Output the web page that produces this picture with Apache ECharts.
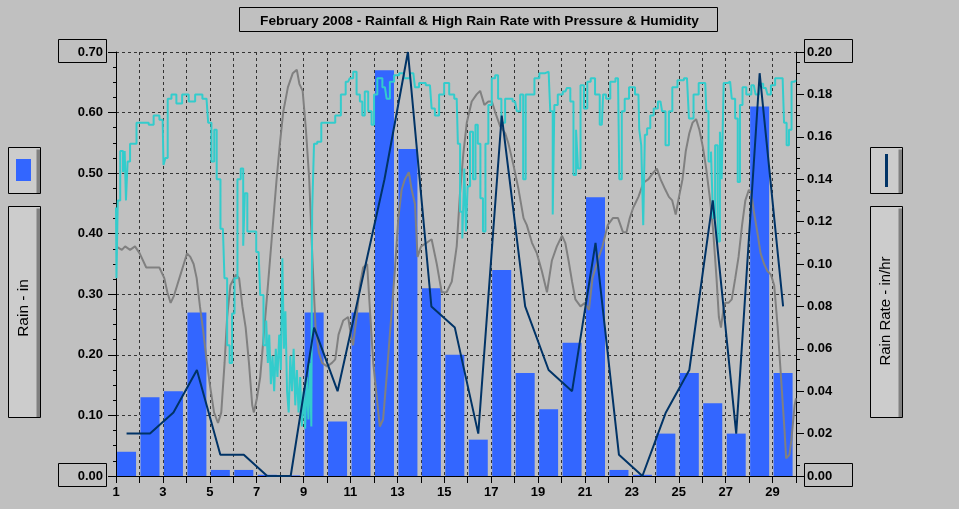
<!DOCTYPE html>
<html><head><meta charset="utf-8">
<script src="https://cdn.jsdelivr.net/npm/echarts@6/dist/echarts.min.js"></script>
<style>html,body{margin:0;padding:0;background:#c0c0c0;}#c{width:959px;height:509px;}</style>
</head><body><div id="c"></div>
<script>
const days = [1,2,3,4,5,6,7,8,9,10,11,12,13,14,15,16,17,18,19,20,21,22,23,24,25,26,27,28,29];
const rainIn = [0.04,0.13,0.14,0.27,0.01,0.01,0.002,0.001,0.27,0.09,0.27,0.67,0.54,0.31,0.20,0.06,0.34,0.17,0.11,0.22,0.46,0.01,0.002,0.07,0.17,0.12,0.07,0.61,0.17];
const rainRate = [0.02,0.02,0.03,0.05,0.01,0.01,0,0,0.07,0.04,0.09,0.14,0.20,0.08,0.07,0.02,0.17,0.08,0.05,0.04,0.11,0.01,0,0.03,0.05,0.13,0.02,0.19,0.08];
const xTickLabels = [1,3,5,7,9,11,13,15,17,19,21,23,25,27,29];

const humDays = [1.0,1.04,1.11,1.25,1.35,1.39,1.46,1.53,1.67,1.81,1.94,2.08,2.29,2.5,2.71,2.99,3.06,3.15,3.26,3.47,3.68,3.96,4.24,4.51,4.86,5.0,5.14,5.24,5.35,5.56,5.69,5.79,5.9,6.0,6.11,6.25,6.39,6.46,6.53,6.67,6.88,7.08,7.22,7.36,7.45,7.5,7.57,7.64,7.71,7.78,7.85,7.92,8.0,8.06,8.13,8.19,8.26,8.33,8.4,8.47,8.54,8.61,8.68,8.75,8.82,8.89,8.96,9.03,9.1,9.17,9.24,9.31,9.35,9.38,9.51,9.65,9.86,10.21,10.49,10.69,10.9,11.04,11.19,11.33,11.47,11.54,11.68,11.83,11.97,12.04,12.25,12.47,12.61,12.75,12.97,13.18,13.39,13.68,13.82,14.03,14.39,14.53,14.67,14.89,15.1,15.32,15.53,15.63,15.72,15.82,15.89,15.96,16.03,16.17,16.28,16.38,16.48,16.6,16.7,16.81,16.95,17.1,17.24,17.35,17.52,17.67,17.81,18.02,18.17,18.31,18.42,18.52,18.74,18.95,19.16,19.45,19.59,19.66,19.73,19.95,20.16,20.3,20.45,20.57,20.67,20.74,20.88,21.03,21.17,21.32,21.54,21.72,21.83,21.97,22.19,22.41,22.52,22.62,22.77,22.99,23.28,23.35,23.45,23.52,23.59,23.71,23.86,24.0,24.22,24.36,24.51,24.65,24.8,25.09,25.35,25.52,25.74,25.96,26.13,26.22,26.32,26.43,26.49,26.61,26.71,26.8,26.86,26.97,27.19,27.33,27.48,27.55,27.67,27.77,27.99,28.2,28.35,28.49,28.71,28.86,29.0,29.22,29.43,29.55,29.65,29.75,29.87,30.0];
const humVals = [78,68,79,86,83,86,79,84.5,87,87,90,90,90,89.7,91,90.4,84,85,93.4,94,92.7,94,93,94,93.4,90,84.5,89,82,75,68,58.5,56,63,68,82,83.5,72.6,80,74.6,74.6,71.7,65.6,58.5,62,56,60,53,57,52,58,54,60,55,70.8,58,63.3,52,49,57,52,58,50,55,49,54,47,52,46.7,54,48,56,47,77.4,87,87.3,90,90,91,94,95.8,96.3,97.2,94,93,91,94.4,91.6,89.7,94,96.3,95,93.4,95.8,96.7,97,96.3,97,95,95.6,95.3,92,91,94,95.6,94,93.4,87,77.4,73.6,83.5,74.6,81,88.7,82,89.7,87,79.3,74.6,87,92.5,96.3,96.7,93.4,90,93.4,93.4,93,91.6,94,82,94,94,96.3,97,97.2,91.6,77,92.5,94,94.4,94.9,93,82.6,89,83.5,95.3,92,95.8,96.3,94,89.7,94,93.4,95.8,96.3,82,91.6,93.4,95,94,89,86.8,75.5,88.3,89.2,91,92,93,91.6,86.8,91.6,95,96,96.3,90.6,94,95.6,95.6,91.6,84.5,85.9,76.5,86.8,73.2,88.7,82,95.6,95.8,93.4,90.6,81.6,92.5,95,94,95.3,94,95.5,94.9,94,95.3,96.3,96.3,90,86.8,89,95.8,96];

const presDays = [1.0,1.25,1.39,1.6,1.81,2.01,2.29,2.57,2.85,3.06,3.19,3.33,3.47,3.61,3.75,3.89,4.03,4.17,4.31,4.44,4.58,4.72,4.86,5.0,5.18,5.35,5.49,5.63,5.74,5.88,6.11,6.25,6.39,6.53,6.67,6.81,6.88,7.01,7.15,7.29,7.43,7.64,7.85,7.99,8.13,8.33,8.54,8.71,8.82,8.96,9.1,9.24,9.38,9.51,9.65,9.79,10.0,10.21,10.35,10.49,10.69,10.9,11.04,11.11,11.26,11.4,11.54,11.71,11.83,11.97,12.11,12.25,12.39,12.54,12.68,12.89,13.04,13.18,13.32,13.49,13.61,13.75,13.86,14.01,14.25,14.46,14.68,14.89,15.1,15.32,15.53,15.67,15.81,15.96,16.17,16.38,16.53,16.71,16.88,17.03,17.17,17.38,17.6,17.74,17.95,18.17,18.38,18.52,18.74,18.95,19.16,19.38,19.59,19.8,20.02,20.16,20.3,20.45,20.59,20.81,21.0,21.17,21.32,21.54,21.75,21.97,22.19,22.41,22.62,22.77,22.91,23.06,23.28,23.49,23.71,23.93,24.07,24.22,24.43,24.58,24.72,24.87,25.01,25.16,25.3,25.45,25.59,25.74,25.88,26.03,26.17,26.32,26.46,26.61,26.71,26.8,26.9,26.97,27.12,27.26,27.41,27.55,27.7,27.84,27.99,28.1,28.2,28.35,28.49,28.64,28.78,28.93,29.07,29.22,29.36,29.51,29.58,29.72,29.8,29.87,29.94,30.0];
const presVals = [30.05,30.04,30.05,30.04,30.05,30.03,29.99,29.99,29.99,29.96,29.92,29.89,29.91,29.94,29.97,30.0,30.03,30.02,30.0,29.96,29.88,29.81,29.73,29.66,29.58,29.55,29.58,29.72,29.85,29.94,29.97,29.96,29.88,29.82,29.72,29.6,29.58,29.62,29.68,29.79,29.9,30.07,30.24,30.34,30.43,30.5,30.54,30.55,30.51,30.49,30.38,30.24,30.01,29.82,29.75,29.72,29.71,29.72,29.73,29.8,29.84,29.85,29.79,29.77,29.85,29.94,29.99,30.0,29.87,29.72,29.63,29.54,29.56,29.68,29.8,29.98,30.13,30.21,30.24,30.26,30.21,30.17,30.02,30.05,30.06,30.07,30.0,29.92,29.92,29.95,30.05,30.2,30.31,30.4,30.46,30.48,30.49,30.45,30.46,30.46,30.43,30.39,30.37,30.34,30.28,30.21,30.13,30.11,30.06,30.03,29.98,29.92,30.01,30.05,30.08,30.06,30.01,29.95,29.9,29.88,29.89,29.87,29.96,30.01,30.05,30.11,30.13,30.13,30.09,30.09,30.13,30.16,30.19,30.23,30.24,30.26,30.27,30.24,30.21,30.19,30.18,30.14,30.19,30.24,30.32,30.37,30.4,30.41,30.38,30.33,30.27,30.19,30.1,29.96,29.85,29.82,29.87,29.89,29.89,29.9,29.96,30.02,30.11,30.18,30.21,30.2,30.15,30.09,30.03,30.0,29.98,29.97,29.94,29.82,29.68,29.53,29.45,29.46,29.5,29.55,29.6,29.62];

const FONT = 'Liberation Sans';
const BAR_OFFSET = 0.45;
const chart = echarts.init(document.getElementById('c'), null, {renderer:'canvas'});

function box(x,y,w,h){
  return {type:'rect', shape:{x:x,y:y,width:w,height:h}, style:{fill:'none', stroke:'#000', lineWidth:1}, z:10};
}
function panel(x,y,w,h){
  return [
    {type:'rect', shape:{x:x,y:y,width:w,height:h}, style:{fill:'#cccccc', stroke:'#000', lineWidth:1}, z:5},
    {type:'rect', shape:{x:x+w-4,y:y+2,width:3.5,height:h-2.5}, style:{fill:'#808080'}, z:6}
  ];
}

const graphics = [
  box(239.5,7.5,478,24),
  box(58.5,39.5,48,23), box(58.5,463.5,48,23),
  box(804.5,39.5,48,23), box(804.5,463.5,48,23),
  ...panel(8.5,147.5,32,46),
  ...panel(8.5,206.5,32,211),
  ...panel(870.5,147.5,32,46),
  ...panel(870.5,206.5,32,211),
  {type:'rect', shape:{x:16,y:159,width:15,height:22}, style:{fill:'#3366ff'}, z:7},
  {type:'line', shape:{x1:886.5,y1:154,x2:886.5,y2:187}, style:{stroke:'#003366', lineWidth:3}, z:7},
  {type:'text', x:24, y:308, rotation:Math.PI/2, style:{text:'Rain - in', font:'15.5px "Liberation Sans"', fill:'#000', textAlign:'center', textVerticalAlign:'middle'}, z:7},
  {type:'text', x:886, y:311, rotation:Math.PI/2, style:{text:'Rain Rate - in/hr', font:'15px "Liberation Sans"', fill:'#000', textAlign:'center', textVerticalAlign:'middle'}, z:7}
];

const dash = {color:'#333', type:[3,3], width:1};
const option = {
  animation:false,
  backgroundColor:'#c0c0c0',
  title:{text:'February 2008 - Rainfall & High Rain Rate with Pressure & Humidity', left:'center', top:9,
    textStyle:{fontFamily:FONT, fontWeight:'bold', fontSize:13.7, color:'#000'}},
  grid:{left:116, right:163, top:52, bottom:33, containLabel:false},
  graphic:graphics,
  xAxis:{type:'value', min:1, max:30, interval:1,
    axisLine:{show:true, lineStyle:{color:'#000', width:1}},
    axisTick:{show:true, length:7, lineStyle:{color:'#000'}},
    axisLabel:{margin:10, fontFamily:FONT, fontWeight:'bold', fontSize:13, color:'#000',
      formatter:v => xTickLabels.includes(Math.round(v)) ? String(Math.round(v)) : ''},
    splitLine:{show:true, lineStyle:dash}},
  yAxis:[
    {type:'value', min:0, max:0.7, interval:0.1, position:'left',
      axisLine:{show:true, lineStyle:{color:'#000'}},
      axisTick:{show:true, length:8, lineStyle:{color:'#000'}},
      minorTick:{show:true, splitNumber:4, length:3, lineStyle:{color:'#000'}},
      axisLabel:{margin:13, fontFamily:FONT, fontWeight:'bold', fontSize:13, color:'#000', formatter:v=>v.toFixed(2)},
      splitLine:{show:true, lineStyle:dash}},
    {type:'value', min:0, max:0.2, interval:0.02, position:'right',
      axisLine:{show:true, lineStyle:{color:'#000'}},
      axisTick:{show:true, length:8, lineStyle:{color:'#000'}},
      minorTick:{show:true, splitNumber:4, length:4, lineStyle:{color:'#000'}},
      axisLabel:{margin:11, fontFamily:FONT, fontWeight:'bold', fontSize:13, color:'#000', formatter:v=>v.toFixed(2)},
      splitLine:{show:false}},
    {type:'value', min:40, max:100, show:false, splitLine:{show:false}},
    {type:'value', min:29.4, max:30.6, show:false, splitLine:{show:false}}
  ],
  series:[
    {name:'Rain', type:'bar', yAxisIndex:0, barWidth:19, itemStyle:{color:'#3366ff'}, z:2,
      data:days.map((d,i)=>[d+BAR_OFFSET, rainIn[i]])},
    {name:'Pressure', type:'line', yAxisIndex:3, showSymbol:false, z:3,
      lineStyle:{color:'#808080', width:2}, data:presDays.map((d,i)=>[d, presVals[i]])},
    {name:'Humidity', type:'line', yAxisIndex:2, showSymbol:false, z:4, step:'middle',
      lineStyle:{color:'#33cccc', width:2}, data:humDays.map((d,i)=>[d, humVals[i]])},
    {name:'Rain Rate', type:'line', yAxisIndex:1, showSymbol:false, z:5,
      lineStyle:{color:'#003366', width:2}, data:days.map((d,i)=>[d+BAR_OFFSET, rainRate[i]])}
  ]
};
chart.setOption(option);
</script></body></html>
